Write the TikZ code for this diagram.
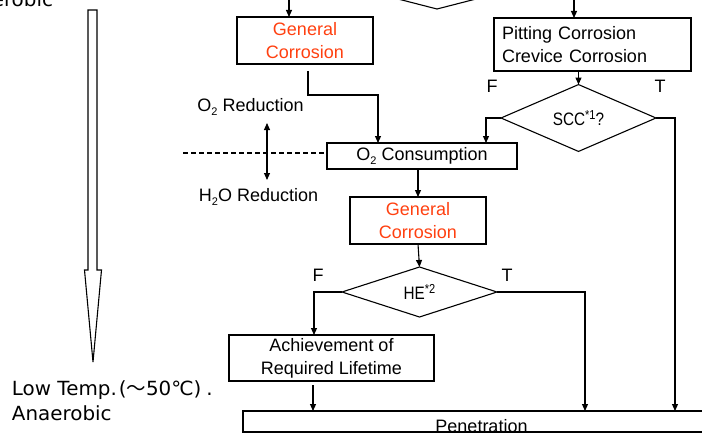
\documentclass[tikz,border=0pt]{standalone}
\usepackage{fontspec}
\setmainfont{Liberation Sans}
\newfontfamily\gothic[FakeStretch=1.02]{DejaVu Sans}
\newfontfamily\cjkfont{Noto Sans CJK JP}
\newfontfamily\narrowfont[FakeStretch=0.85]{Liberation Sans}
\usetikzlibrary{shapes.geometric,arrows.meta}
\definecolor{corrred}{RGB}{255,64,16}
\newcommand\supr[1]{\raisebox{0.36em}{\fontsize{13}{13}\selectfont #1}}
\newcommand\subr[1]{\raisebox{-0.22em}{\fontsize{11}{11}\selectfont #1}}

\begin{document}
\begin{tikzpicture}[x=1pt,y=-1pt,line width=1.1pt]
\tikzstyle{every node}+=[inner sep=0pt,outer sep=0pt,font=\fontsize{18}{23}\selectfont]
\tikzstyle{box}=[draw,rectangle,align=center]
\tikzstyle{dec}=[draw,diamond,font=\narrowfont\fontsize{18}{23}\selectfont]
\tikzstyle{side}=[font=\gothic\fontsize{19.5}{23}\selectfont]
\tikzstyle{arr}=[-{Triangle[length=7pt,width=6pt]}]
\useasboundingbox (0,0) rectangle (702,436);
\node[side,anchor=base east] (aer) at (53,7) {Aerobic};
\draw (88,10) -- (97,10) -- (97,270) -- (101.5,270) -- (93,362) -- (84.5,270) -- (88,270) -- cycle;
\node[side,anchor=base west] (low) at (12,395) {Low Temp.\hspace{2pt}({\cjkfont ～}50℃)\hspace{5pt}.};
\node[side,anchor=base west] (anae) at (12,420) {Anaerobic};
\node[dec,minimum width=156pt,minimum height=40pt] (chk) at (437,-11) {};
\node[box,text=corrred,minimum width=136pt,minimum height=47pt] (gc1) at (305,40.5) {General\\Corrosion};
\node[box,align=left,text width=181pt,minimum width=197pt,minimum height=53pt] (pit) at (592.5,44.5) {Pitting Corrosion\\Crevice Corrosion};
\node[dec,minimum width=155pt,minimum height=50pt] (scc) at (578.5,118) {SCC\supr{*1}?};
\node (f1) at (492,86) {F};
\node (t1) at (660,86) {T};
\node (o2r) at (250.5,107) {O\subr{2} Reduction};
\node[box,minimum width=190pt,minimum height=26pt] (o2) at (422,156) {O\subr{2} Consumption};
\node (h2or) at (258.5,197) {H\subr{2}O Reduction};
\node[box,text=corrred,minimum width=136pt,minimum height=47pt] (gc2) at (418,220.5) {General\\Corrosion};
\node[dec,minimum width=155pt,minimum height=50pt] (he) at (419.5,292) {HE\supr{*2}};
\node (f2) at (318,275) {F};
\node (t2) at (507,275) {T};
\node[box,minimum width=205pt,minimum height=46pt] (ach) at (331.5,358) {Achievement of\\Required Lifetime};
\node[box,minimum width=477pt,minimum height=21pt] (pen) at (481.5,421.5) {};
\node (pent) at ([yshift=-5pt]pen.center) {Penetration};
\coordinate (in1) at (289,-20);
\coordinate (in2) at (574,-20);
\coordinate (j1) at (378,95);
\coordinate (dl) at (183,153);
\coordinate (ru) at (267,123);
\coordinate (rd) at (267,180);
\coordinate (a1) at ([xshift=-18.5pt]ach.south);
\draw[arr] (in1) -- (in1 |- gc1.north);
\draw[arr] (in2) -- (in2 |- pit.north);
\draw[arr,shorten <=7pt] ([xshift=3pt]gc1.south) |- (j1) -- (j1 |- o2.north);
\draw[arr] (scc.north |- pit.south) -- (scc.north);
\draw[arr] (scc.west) -| ([xshift=64pt]o2.north);
\draw[arr] (scc.east) -| ([xshift=193.5pt]pen.north);
\draw[dash pattern=on 5pt off 3pt] (dl) -- (dl -| o2.west);
\draw[{Triangle[length=7pt,width=6pt]}-{Triangle[length=7pt,width=6pt]}] (ru) -- (rd);
\draw[arr] (o2.south -| gc2.north) -- (gc2.north);
\draw[arr] (gc2.south) -- (he.north);
\draw[arr] (he.west) -| ([xshift=-17.5pt]ach.north);
\draw[arr] (he.east) -| ([xshift=103.5pt]pen.north);
\draw[arr,shorten <=4pt] (a1) -- (a1 |- pen.north);
\end{tikzpicture}
\end{document}
